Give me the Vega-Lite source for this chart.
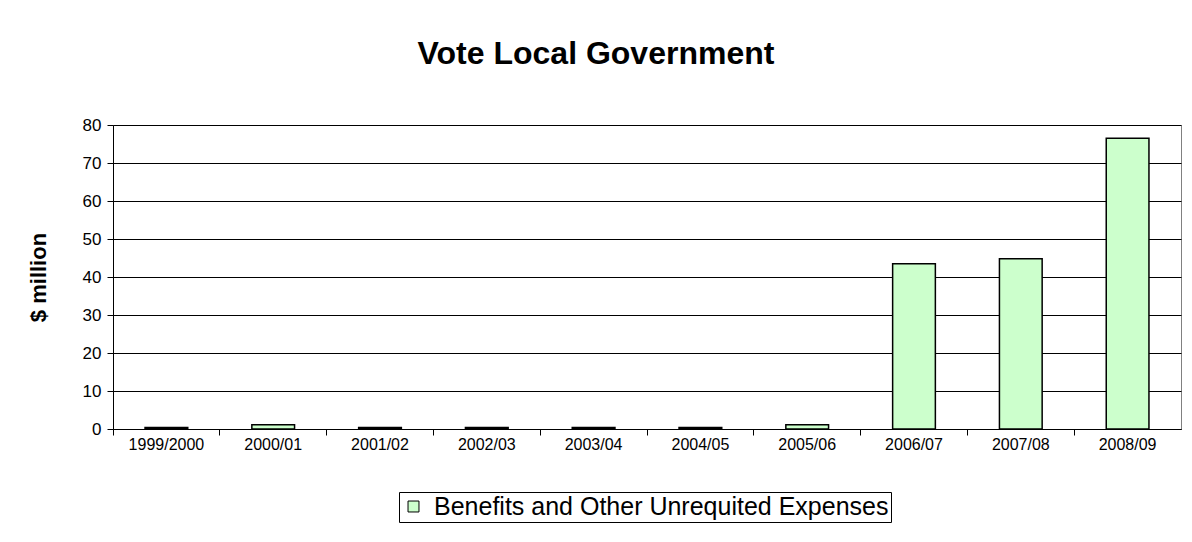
{
  "$schema": "https://vega.github.io/schema/vega-lite/v6.json",
  "width": 1068,
  "height": 304,
  "autosize": {"type": "none"},
  "padding": {"left": 113, "top": 125, "right": 11, "bottom": 113},
  "background": "white",
  "title": {
    "text": "Vote Local Government",
    "font": "Liberation Sans",
    "fontSize": 32,
    "fontWeight": "bold",
    "color": "black",
    "anchor": "middle",
    "dx": -51,
    "offset": 45
  },
  "data": {
    "values": [
      {"year": "1999/2000", "value": 0.4, "series": "Benefits and Other Unrequited Expenses"},
      {"year": "2000/01", "value": 1.1, "series": "Benefits and Other Unrequited Expenses"},
      {"year": "2001/02", "value": 0.4, "series": "Benefits and Other Unrequited Expenses"},
      {"year": "2002/03", "value": 0.4, "series": "Benefits and Other Unrequited Expenses"},
      {"year": "2003/04", "value": 0.4, "series": "Benefits and Other Unrequited Expenses"},
      {"year": "2004/05", "value": 0.4, "series": "Benefits and Other Unrequited Expenses"},
      {"year": "2005/06", "value": 1.1, "series": "Benefits and Other Unrequited Expenses"},
      {"year": "2006/07", "value": 43.5, "series": "Benefits and Other Unrequited Expenses"},
      {"year": "2007/08", "value": 44.8, "series": "Benefits and Other Unrequited Expenses"},
      {"year": "2008/09", "value": 76.5, "series": "Benefits and Other Unrequited Expenses"}
    ]
  },
  "mark": {"type": "bar", "stroke": "black", "strokeWidth": 1.5},
  "encoding": {
    "x": {
      "field": "year",
      "type": "nominal",
      "sort": null,
      "scale": {"paddingInner": 0.6, "paddingOuter": 0.3},
      "axis": {
        "title": null,
        "labelAngle": 0,
        "bandPosition": -0.75,
        "labelFont": "Liberation Sans",
        "labelFontSize": 16,
        "labelColor": "black",
        "labelPadding": 1,
        "domainColor": "black",
        "tickColor": "black",
        "tickSize": 6,
        "grid": false
      }
    },
    "y": {
      "field": "value",
      "type": "quantitative",
      "scale": {"domain": [0, 80], "nice": false},
      "axis": {
        "title": "$ million",
        "titleFont": "Liberation Sans",
        "titleFontSize": 22,
        "titleFontWeight": "bold",
        "titleColor": "black",
        "titlePadding": 32,
        "values": [0, 10, 20, 30, 40, 50, 60, 70, 80],
        "labelFont": "Liberation Sans",
        "labelFontSize": 17,
        "labelColor": "black",
        "labelPadding": 6,
        "domainColor": "black",
        "tickColor": "black",
        "tickSize": 6,
        "grid": true,
        "gridColor": "black",
        "gridOpacity": 1
      }
    },
    "color": {
      "field": "series",
      "type": "nominal",
      "scale": {"range": ["#ccffcc"]},
      "legend": {
        "title": null,
        "orient": "none",
        "legendX": 286,
        "legendY": 367,
        "strokeColor": "black",
        "padding": 2,
        "symbolType": "square",
        "symbolSize": 120,
        "symbolStrokeColor": "black",
        "symbolStrokeWidth": 1,
        "symbolOffset": 0,
        "labelOffset": 8,
        "labelFont": "Liberation Sans",
        "labelFontSize": 25,
        "labelLimit": 0,
        "labelColor": "black"
      }
    }
  },
  "config": {
    "view": {"stroke": "#808080", "strokeWidth": 1}
  }
}
